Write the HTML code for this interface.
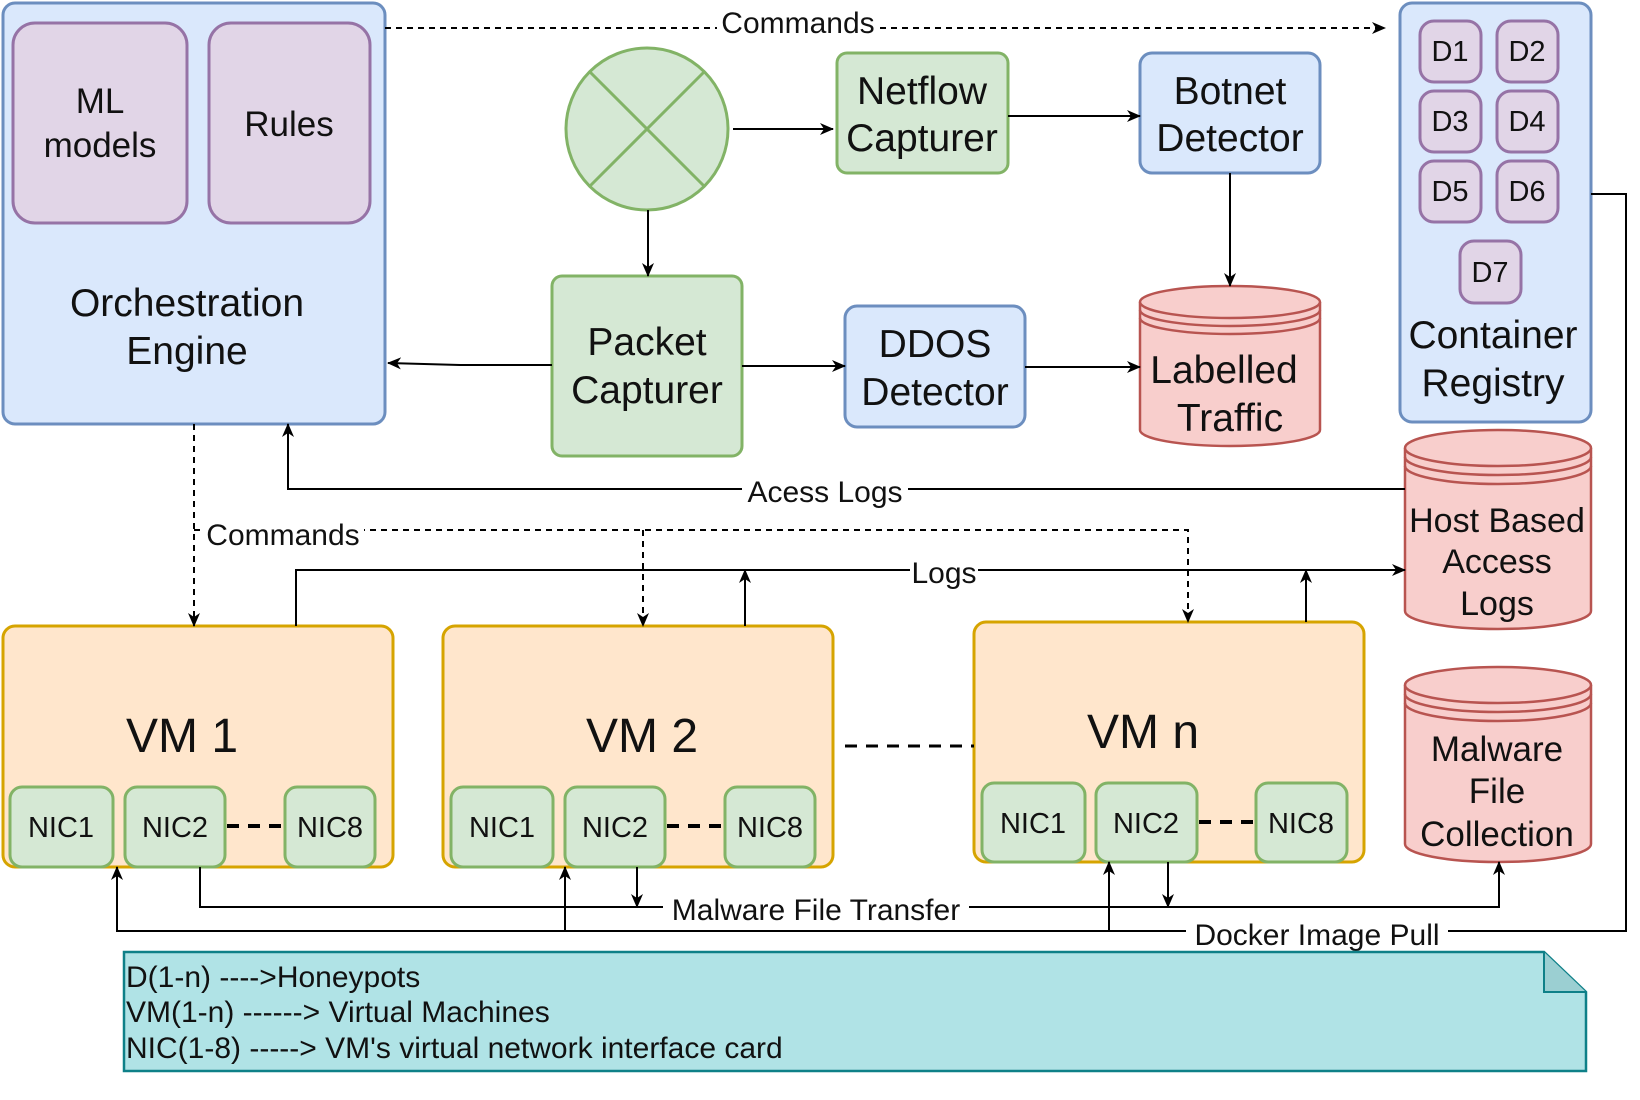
<!DOCTYPE html>
<html><head><meta charset="utf-8"><style>
html,body{margin:0;padding:0;background:#fff;}
svg{display:block;}
text{font-family:"Liberation Sans",sans-serif;fill:#111;}
</style></head><body>
<svg width="1640" height="1100" viewBox="0 0 1640 1100" xmlns="http://www.w3.org/2000/svg">
<defs>
<marker id="a" markerWidth="14" markerHeight="12" refX="13" refY="6" orient="auto" markerUnits="userSpaceOnUse">
<path d="M0,0 L14,6 L0,12 L4,6 Z" fill="#000"/></marker>
</defs>

<rect x="3" y="3" width="382" height="421" rx="12" fill="#dae8fc" stroke="#6c8ebf" stroke-width="3"/>
<rect x="13" y="23" width="174" height="200" rx="22" fill="#e1d5e7" stroke="#9673a6" stroke-width="3"/>
<rect x="209" y="23" width="161" height="200" rx="22" fill="#e1d5e7" stroke="#9673a6" stroke-width="3"/>
<text x="100" y="113" font-size="35" text-anchor="middle">ML</text>
<text x="100" y="157" font-size="35" text-anchor="middle">models</text>
<text x="289" y="136" font-size="35" text-anchor="middle">Rules</text>
<text x="187" y="316" font-size="39" text-anchor="middle">Orchestration</text>
<text x="187" y="364" font-size="39" text-anchor="middle">Engine</text>

<circle cx="647" cy="129" r="81" fill="#d5e8d4" stroke="#82b366" stroke-width="3"/>
<line x1="590" y1="72" x2="704" y2="186" stroke="#82b366" stroke-width="3"/>
<line x1="704" y1="72" x2="590" y2="186" stroke="#82b366" stroke-width="3"/>

<rect x="837" y="53" width="171" height="120" rx="10" fill="#d5e8d4" stroke="#82b366" stroke-width="3"/>
<text x="922" y="104" font-size="39" text-anchor="middle">Netflow</text>
<text x="922" y="151" font-size="39" text-anchor="middle">Capturer</text>
<rect x="1140" y="53" width="180" height="120" rx="12" fill="#dae8fc" stroke="#6c8ebf" stroke-width="3"/>
<text x="1230" y="104" font-size="39" text-anchor="middle">Botnet</text>
<text x="1230" y="151" font-size="39" text-anchor="middle">Detector</text>

<rect x="552" y="276" width="190" height="180" rx="10" fill="#d5e8d4" stroke="#82b366" stroke-width="3"/>
<text x="647" y="355" font-size="39" text-anchor="middle">Packet</text>
<text x="647" y="403" font-size="39" text-anchor="middle">Capturer</text>

<rect x="845" y="306" width="180" height="121" rx="12" fill="#dae8fc" stroke="#6c8ebf" stroke-width="3"/>
<text x="935" y="357" font-size="39" text-anchor="middle">DDOS</text>
<text x="935" y="405" font-size="39" text-anchor="middle">Detector</text>

<g fill="#f8cecc" stroke="#b85450" stroke-width="2.5">
<path d="M1140,302 v128 a90,16 0 0 0 180,0 v-128"/>
<ellipse cx="1230" cy="302" rx="90" ry="16"/>
<path d="M1140,310 a90,16 0 0 0 180,0" fill="none"/>
<path d="M1140,318 a90,16 0 0 0 180,0" fill="none"/>
</g>
<text x="1224" y="383" font-size="39" text-anchor="middle">Labelled</text>
<text x="1230" y="431" font-size="39" text-anchor="middle">Traffic</text>

<rect x="1400" y="3" width="191" height="419" rx="12" fill="#dae8fc" stroke="#6c8ebf" stroke-width="3"/>
<g fill="#e1d5e7" stroke="#9673a6" stroke-width="3">
<rect x="1420" y="21" width="61" height="61" rx="14"/>
<rect x="1497" y="21" width="61" height="61" rx="14"/>
<rect x="1420" y="91" width="61" height="61" rx="14"/>
<rect x="1497" y="91" width="61" height="61" rx="14"/>
<rect x="1420" y="161" width="61" height="61" rx="14"/>
<rect x="1497" y="161" width="61" height="61" rx="14"/>
<rect x="1460" y="241" width="61" height="62" rx="14"/>
</g>
<g font-size="29" text-anchor="middle">
<text x="1450" y="61">D1</text><text x="1527" y="61">D2</text>
<text x="1450" y="131">D3</text><text x="1527" y="131">D4</text>
<text x="1450" y="201">D5</text><text x="1527" y="201">D6</text>
<text x="1490" y="282">D7</text>
</g>
<text x="1493" y="348" font-size="39" text-anchor="middle">Container</text>
<text x="1493" y="396" font-size="39" text-anchor="middle">Registry</text>

<g fill="#f8cecc" stroke="#b85450" stroke-width="2.5">
<path d="M1405,448 v163 a93,18 0 0 0 186,0 v-163"/>
<ellipse cx="1498" cy="448" rx="93" ry="18"/>
<path d="M1405,457 a93,18 0 0 0 186,0" fill="none"/>
<path d="M1405,466 a93,18 0 0 0 186,0" fill="none"/>
</g>
<text x="1497" y="532" font-size="34" text-anchor="middle">Host Based</text>
<text x="1497" y="573" font-size="34" text-anchor="middle">Access</text>
<text x="1497" y="615" font-size="34" text-anchor="middle">Logs</text>

<g fill="#f8cecc" stroke="#b85450" stroke-width="2.5">
<path d="M1405,685 v159 a93,18 0 0 0 186,0 v-159"/>
<ellipse cx="1498" cy="685" rx="93" ry="18"/>
<path d="M1405,694 a93,18 0 0 0 186,0" fill="none"/>
<path d="M1405,703 a93,18 0 0 0 186,0" fill="none"/>
</g>
<text x="1497" y="761" font-size="35" text-anchor="middle">Malware</text>
<text x="1497" y="803" font-size="35" text-anchor="middle">File</text>
<text x="1497" y="846" font-size="35" text-anchor="middle">Collection</text>

<g fill="#ffe6cc" stroke="#d6a400" stroke-width="3">
<rect x="3" y="626" width="390" height="241" rx="12"/>
<rect x="443" y="626" width="390" height="241" rx="12"/>
<rect x="974" y="622" width="390" height="240" rx="12"/>
</g>
<text x="182" y="752" font-size="48" text-anchor="middle">VM 1</text>
<text x="642" y="752" font-size="48" text-anchor="middle">VM 2</text>
<text x="1143" y="748" font-size="48" text-anchor="middle">VM n</text>
<g fill="#d5e8d4" stroke="#82b366" stroke-width="3">
<rect x="10" y="787" width="103" height="80" rx="12"/>
<rect x="125" y="787" width="100" height="80" rx="12"/>
<rect x="285" y="787" width="90" height="80" rx="12"/>
<rect x="451" y="787" width="102" height="80" rx="12"/>
<rect x="565" y="787" width="100" height="80" rx="12"/>
<rect x="725" y="787" width="90" height="80" rx="12"/>
<rect x="982" y="783" width="103" height="79" rx="12"/>
<rect x="1096" y="783" width="101" height="79" rx="12"/>
<rect x="1256" y="783" width="91" height="79" rx="12"/>
</g>
<g font-size="29" text-anchor="middle">
<text x="61" y="837">NIC1</text><text x="175" y="837">NIC2</text><text x="330" y="837">NIC8</text>
<text x="502" y="837">NIC1</text><text x="615" y="837">NIC2</text><text x="770" y="837">NIC8</text>
<text x="1033" y="833">NIC1</text><text x="1146" y="833">NIC2</text><text x="1301" y="833">NIC8</text>
</g>
<g stroke="#000" stroke-width="4" stroke-dasharray="12,9" fill="none">
<line x1="227" y1="826" x2="283" y2="826"/>
<line x1="667" y1="826" x2="723" y2="826"/>
<line x1="1199" y1="822" x2="1254" y2="822"/>
<line x1="845" y1="746" x2="974" y2="746" stroke-width="3"/>
</g>

<g stroke="#000" stroke-width="2" fill="none">
<line x1="385" y1="28" x2="1385" y2="28" stroke-dasharray="6,5" marker-end="url(#a)"/>
<line x1="733" y1="129" x2="833" y2="129" marker-end="url(#a)"/>
<line x1="1008" y1="116" x2="1140" y2="116" marker-end="url(#a)"/>
<line x1="1230" y1="173" x2="1230" y2="286" marker-end="url(#a)"/>
<line x1="648" y1="210" x2="648" y2="276" marker-end="url(#a)"/>
<path d="M552,365 L460,365 L388,363" marker-end="url(#a)"/>
<line x1="742" y1="366" x2="845" y2="366" marker-end="url(#a)"/>
<line x1="1025" y1="367" x2="1140" y2="367" marker-end="url(#a)"/>
<path d="M1405,489 L288,489 L288,424" marker-end="url(#a)"/>
<g stroke-dasharray="6,5">
<line x1="194" y1="424" x2="194" y2="626" marker-end="url(#a)"/>
<path d="M194,530 L1188,530 L1188,622" marker-end="url(#a)"/>
<line x1="643" y1="530" x2="643" y2="626" marker-end="url(#a)"/>
</g>
<path d="M296,626 L296,570 L1405,570" marker-end="url(#a)"/>
<line x1="745" y1="626" x2="745" y2="570" marker-end="url(#a)"/>
<line x1="1306" y1="622" x2="1306" y2="570" marker-end="url(#a)"/>
<path d="M200,867 L200,907 L1499,907 L1499,862" marker-end="url(#a)"/>
<line x1="637" y1="867" x2="637" y2="907" marker-end="url(#a)"/>
<line x1="1168" y1="862" x2="1168" y2="907" marker-end="url(#a)"/>
<path d="M1591,194 L1626,194 L1626,931 L117,931 L117,867" marker-end="url(#a)"/>
<line x1="565" y1="931" x2="565" y2="867" marker-end="url(#a)"/>
<line x1="1109" y1="931" x2="1109" y2="862" marker-end="url(#a)"/>
</g>

<g font-size="30" text-anchor="middle">
<rect x="717" y="12" width="162" height="30" fill="#fff"/><text x="798" y="33">Commands</text>
<rect x="742" y="476" width="166" height="30" fill="#fff"/><text x="825" y="502">Acess Logs</text>
<rect x="202" y="520" width="162" height="30" fill="#fff"/><text x="283" y="545">Commands</text>
<rect x="910" y="558" width="68" height="30" fill="#fff"/><text x="944" y="583">Logs</text>
<rect x="663" y="895" width="306" height="30" fill="#fff"/><text x="816" y="920">Malware File Transfer</text>
<rect x="1186" y="920" width="262" height="30" fill="#fff"/><text x="1317" y="945">Docker Image Pull</text>
</g>

<path d="M124,952 L1544,952 L1586,992 L1586,1071 L124,1071 Z" fill="#b0e3e6" stroke="#0e8088" stroke-width="2.5"/>
<path d="M1544,952 L1544,992 L1586,992" fill="#9bcfd2" stroke="#0e8088" stroke-width="2"/>
<g font-size="30">
<text x="126" y="987">D(1-n) ----&gt;Honeypots</text>
<text x="126" y="1022">VM(1-n) ------&gt; Virtual Machines</text>
<text x="126" y="1058">NIC(1-8) -----&gt; VM's virtual network interface card</text>
</g>
</svg>
</body></html>
